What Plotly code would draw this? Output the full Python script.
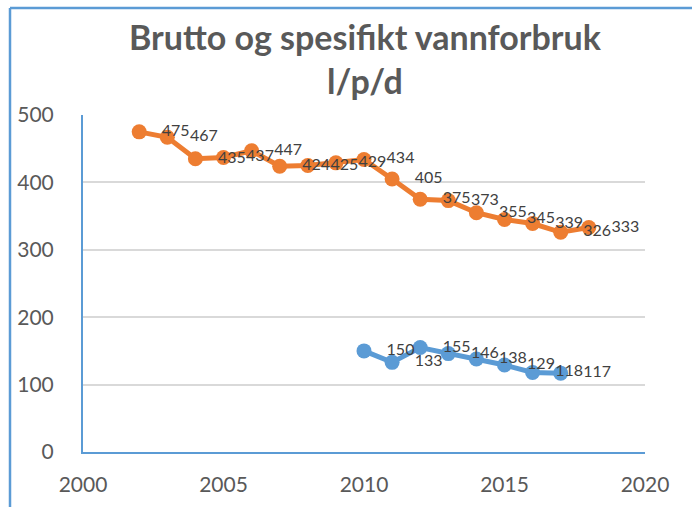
import plotly.graph_objects as go

years_brutto = [2002, 2003, 2004, 2005, 2006, 2007, 2008, 2009, 2010,
                2011, 2012, 2013, 2014, 2015, 2016, 2017, 2018]
brutto = [475, 467, 435, 437, 447, 424, 425, 429, 434,
          405, 375, 373, 355, 345, 339, 326, 333]

years_spes = [2010, 2011, 2012, 2013, 2014, 2015, 2016, 2017]
spes = [150, 133, 155, 146, 138, 129, 118, 117]

x_ticks = [2000, 2005, 2010, 2015, 2020]
y_ticks = [0, 100, 200, 300, 400, 500]

ORANGE = "#ED7D31"
BLUE = "#5B9BD5"
LABEL_SHIFT = 1.3

fig = go.Figure()
for xs, ys, col in [(years_brutto, brutto, ORANGE), (years_spes, spes, BLUE)]:
    fig.add_trace(go.Scatter(x=xs, y=ys, mode="lines+markers",
                             line=dict(color=col, width=5),
                             marker=dict(color=col, size=15),
                             showlegend=False, hoverinfo="skip"))
    fig.add_trace(go.Scatter(x=[v + LABEL_SHIFT for v in xs], y=ys, mode="text",
                             text=[str(v) for v in ys], textposition="middle center",
                             textfont=dict(family="Lato", size=16, color="#404040"),
                             showlegend=False, hoverinfo="skip", cliponaxis=False))

W, H = 692, 507
L, R, T, B = 83, 47, 115, 55
pw, ph = W - L - R, H - T - B

def px_x(p):
    return (p - L) / pw

def px_y(p):
    return (H - B - p) / ph

fig.update_layout(
    width=W, height=H,
    margin=dict(l=L, r=R, t=T, b=B, autoexpand=False),
    paper_bgcolor="white", plot_bgcolor="white",
    xaxis=dict(range=[2000, 2020], tickvals=x_ticks, showgrid=False, zeroline=False,
               showline=True, linecolor=BLUE, linewidth=2, automargin=False,
               ticks="", ticklabelstandoff=13,
               tickfont=dict(family="Lato", size=21, color="#595959")),
    yaxis=dict(range=[0, 500], tickvals=y_ticks, showgrid=True, gridcolor="#D9D9D9",
               gridwidth=1.5, zeroline=False, showline=True, linecolor=BLUE, linewidth=2,
               automargin=False, ticks="", ticklabelstandoff=23,
               tickfont=dict(family="Lato", size=21, color="#595959")),
    annotations=[
        dict(text="<b>Brutto og spesifikt vannforbruk<br>l/p/d</b>",
             font=dict(family="Lato", size=34, color="#595959"),
             xref="paper", yref="paper", x=px_x(365), y=px_y(14),
             xanchor="center", yanchor="top", showarrow=False, align="center"),
    ],
    shapes=[
        dict(type="line", xref="paper", yref="paper",
             x0=px_x(10), x1=px_x(10), y0=px_y(8), y1=px_y(512),
             line=dict(color=BLUE, width=2.5)),
        dict(type="line", xref="paper", yref="paper",
             x0=px_x(10), x1=px_x(700), y0=px_y(8), y1=px_y(8),
             line=dict(color=BLUE, width=2.5)),
    ],
)

fig.write_html("out.html", config={"displayModeBar": False},
               post_script="document.body.style.margin='0';document.body.style.overflow='hidden';")
